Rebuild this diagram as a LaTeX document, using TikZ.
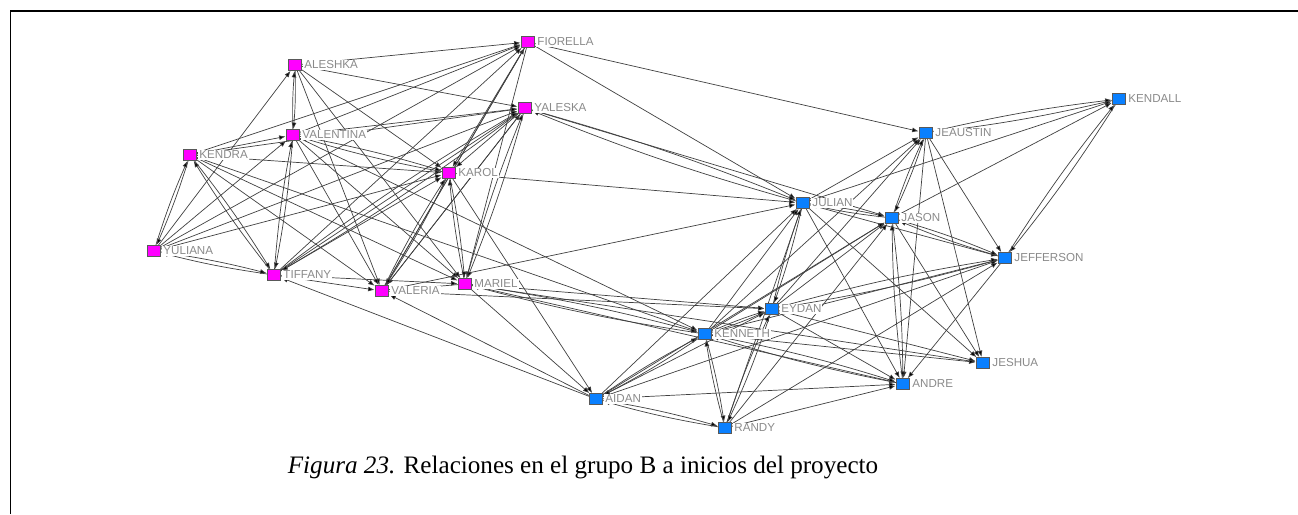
\documentclass[tikz,border=0pt]{standalone}
\usepackage{fontspec}
\setmainfont{Liberation Serif}
\newfontfamily\lblfont{Liberation Sans}
\usepackage{tikz}
\usetikzlibrary{arrows.meta, backgrounds}
\definecolor{GirlMag}{HTML}{FF00FF}
\definecolor{BoyBlue}{HTML}{0A80FF}
\definecolor{TieGray}{HTML}{404040}
\definecolor{NameGray}{HTML}{8A8A8A}

\begin{document}
\begin{tikzpicture}[x=0.02cm, y=-0.02cm,
  actor/.style={draw=black!65, line width=0.3pt, minimum width=0.27cm, minimum height=0.21cm, inner sep=0pt},
  girl/.style={actor, fill=GirlMag},
  boy/.style={actor, fill=BoyBlue},
  lbl/.style={font=\lblfont\fontsize{6.6}{7}\selectfont, text=NameGray, fill=white, inner sep=0.6pt},
  tie/.style={-{Latex[length=3.6pt, width=2.8pt, fill=black]}, line width=0.4pt, draw=TieGray, shorten >=0.3pt},
  every label/.style={lbl}, label distance=0.6pt
]
  \useasboundingbox (0,0) rectangle (1298,514);
  \draw[line width=0.9pt] (10.5,514) -- (10.5,11) -- (1298,11);

  % grupo B: chicas
  \node[girl, label=right:FIORELLA] (fio) at (528,42) {};
  \node[girl, label=right:ALESHKA] (ale) at (295,65) {};
  \node[girl, label=right:YALESKA] (yal) at (525,108) {};
  \node[girl, label=right:VALENTINA] (val) at (293,135) {};
  \node[girl, label=right:KENDRA] (ken) at (190,155) {};
  \node[girl, label=right:KAROL] (kar) at (449,173) {};
  \node[girl, label=right:YULIANA] (yul) at (154,251) {};
  \node[girl, label=right:TIFFANY] (tif) at (274,275) {};
  \node[girl, label=right:VALERIA] (vlr) at (382,291) {};
  \node[girl, label=right:MARIEL] (mar) at (465,284) {};

  % grupo B: chicos
  \node[boy, label=right:KENDALL] (kdl) at (1119,99) {};
  \node[boy, label=right:JEAUSTIN] (jea) at (926,133) {};
  \node[boy, label=right:JULIAN] (jul) at (803,203) {};
  \node[boy, label=right:JASON] (jas) at (892,218) {};
  \node[boy, label=right:JEFFERSON] (jef) at (1005,258) {};
  \node[boy, label=right:EYDAN] (eyd) at (772,309) {};
  \node[boy, label=right:KENNETH] (knn) at (705,334) {};
  \node[boy, label=right:JESHUA] (jes) at (983,363) {};
  \node[boy, label=right:ANDRE] (and) at (903,384) {};
  \node[boy, label=right:AIDAN] (aid) at (596,399) {};
  \node[boy, label=right:RANDY] (ran) at (725,428) {};

  \node[font=\fontsize{14.3}{17}\selectfont] (caption) at (583,467) {\textit{Figura 23.} Relaciones en el grupo B a inicios del proyecto};

  \begin{pgfonlayer}{background}
    % lazos en una sola direccion
    \foreach \a/\b in {ale/fio, ale/yal, ale/kar, ale/mar, ale/vlr, yul/ale,
        ken/fio, ken/val, ken/yal, ken/kar, ken/vlr, ken/mar, ken/knn,
        val/vlr, val/mar, val/fio, val/yal, val/knn,
        yul/val, yul/kar, yul/yal, yul/fio,
        tif/vlr, tif/mar, tif/kar, tif/yal, tif/fio,
        vlr/yal, vlr/fio, fio/mar, fio/kar, fio/vlr, yal/kar, yal/vlr, mar/vlr,
        fio/jea, fio/jul, yal/jas, kar/jul, kar/aid, mar/aid,
        mar/eyd, mar/and, mar/jes, vlr/eyd, vlr/jul, aid/tif, aid/vlr,
        jul/jea, jea/jef, jea/jes, jea/and, eyd/jea, knn/jea,
        jul/kdl, jas/kdl, jul/jef, jul/and, jul/jes, knn/jul, aid/jul,
        jas/jes, eyd/jas, knn/jas, aid/jas, ran/jas,
        knn/jef, aid/jef, ran/jef, jef/and,
        eyd/and, eyd/jes, aid/eyd, knn/jes, aid/and, ran/and, ran/jul}
      \draw[tie] (\a) -- (\b);
    % lazos reciprocos
    \foreach \a/\b in {ale/val, ken/yul, ken/tif, val/tif, val/kar, yul/tif,
        vlr/kar, mar/kar, yal/mar, yal/tif, yal/jul, mar/knn,
        jea/kdl, jas/jea, kdl/jef, jul/jas, jul/eyd, jas/jef, jas/and,
        eyd/jef, knn/eyd, ran/eyd, knn/ran, knn/and, aid/knn, aid/ran}
      {\draw[tie] (\a) to[bend left=3] (\b);
       \draw[tie] (\b) to[bend left=3] (\a);}
  \end{pgfonlayer}
\end{tikzpicture}
\end{document}
